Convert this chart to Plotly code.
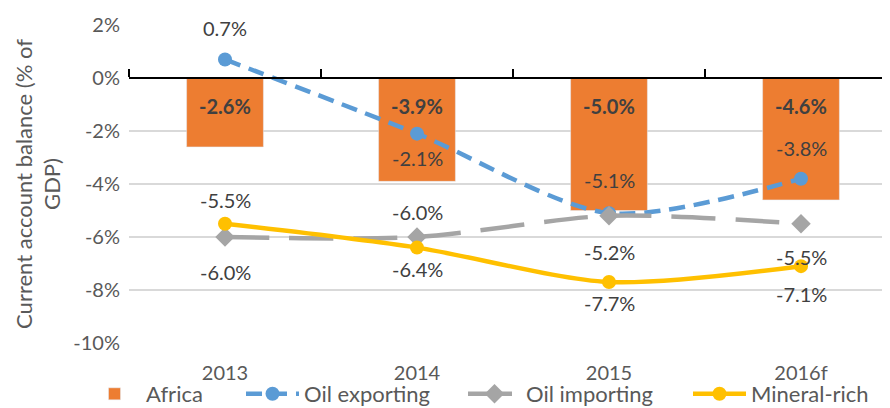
import plotly.graph_objects as go

years = ["2013", "2014", "2015", "2016f"]
africa = [-2.6, -3.9, -5.0, -4.6]
oil_exporting = [0.7, -2.1, -5.1, -3.8]
oil_importing = [-6.0, -6.0, -5.2, -5.5]
mineral_rich = [-5.5, -6.4, -7.7, -7.1]
y_ticks = [2, 0, -2, -4, -6, -8, -10]

# label offsets (style, in px)
exp_shift = [31, -24, 33, 31]
imp_shift = [-35, 25, -36, -33]
min_shift = [24, -21, -21, -28]

FONT = "Lato"
GRAY = "#595959"
LABEL = "#404040"
W, H = 882, 400  # page body has an 8px margin
XR = [-0.5, -0.5 + 761 / 192]
LEG_X = [75, 233, 455, 680]  # left edge of each legend entry (px)

fig = go.Figure()
fig.add_trace(go.Bar(x=years, y=africa, name="Africa", marker_color="#ED7D31",
                     width=0.4, hoverinfo="skip", legend="legend"))
fig.add_trace(go.Scatter(x=years, y=oil_exporting, name="Oil exporting", mode="lines+markers",
                         line=dict(color="#5B9BD5", width=4.5, dash="16px,9px", shape="spline", smoothing=0.8),
                         marker=dict(size=14, color="#5B9BD5"), legend="legend2"))
fig.add_trace(go.Scatter(x=years, y=oil_importing, name="Oil importing", mode="lines+markers",
                         line=dict(color="#A5A5A5", width=4.5, dash="44px,20px", shape="spline", smoothing=0.8),
                         marker=dict(size=15, symbol="diamond", color="#A5A5A5"), legend="legend3"))
fig.add_trace(go.Scatter(x=years, y=mineral_rich, name="Mineral-rich", mode="lines+markers",
                         line=dict(color="#FFC000", width=4.5, shape="spline", smoothing=0.8),
                         marker=dict(size=14, color="#FFC000"), legend="legend4"))
# helper trace to carry the zero-line category axis
fig.add_trace(go.Scatter(x=years, y=[None] * len(years), xaxis="x2", showlegend=False,
                         hoverinfo="skip", mode="lines"))

ann = []
for i, v in enumerate(africa):
    ann.append(dict(x=i, y=0, text=f"<b>{v:.1f}%</b>", showarrow=False, yshift=-28,
                    font=dict(size=20, color=LABEL, family=FONT)))
for vals, shifts in [(oil_exporting, exp_shift), (oil_importing, imp_shift), (mineral_rich, min_shift)]:
    for i, (v, s) in enumerate(zip(vals, shifts)):
        ann.append(dict(x=i, y=v, text=f"{v:.1f}%", showarrow=False, yshift=s,
                        font=dict(size=20, color=LABEL, family=FONT)))


def leg(xpx):
    return dict(orientation="h", xref="container", x=xpx / W, xanchor="left",
                yref="container", y=14 / H, yanchor="middle",
                font=dict(size=22, color=GRAY), itemwidth=53, bgcolor="rgba(0,0,0,0)")


fig.update_layout(
    width=W, height=H,
    margin=dict(l=121, r=0, t=17, b=65, autoexpand=False),
    paper_bgcolor="white", plot_bgcolor="white",
    font=dict(family=FONT, size=20, color=GRAY),
    showlegend=True,
    legend=leg(LEG_X[0]), legend2=leg(LEG_X[1]), legend3=leg(LEG_X[2]), legend4=leg(LEG_X[3]),
    xaxis=dict(type="category", range=XR, showgrid=False, showline=False, automargin=False,
               ticks="", tickfont=dict(size=20, color=GRAY), ticklabelstandoff=16),
    xaxis2=dict(type="category", overlaying="x", anchor="free", position=10 / 12, side="top",
                range=XR, showgrid=False, showline=True, linecolor="black", automargin=False,
                linewidth=2, ticks="outside", tickson="boundaries", ticklen=8, tickwidth=2,
                tickcolor="black", showticklabels=False),
    yaxis=dict(range=[-10, 2], tickvals=y_ticks, ticktext=[f"{t}%" for t in y_ticks],
               showgrid=True, gridcolor="#D9D9D9", gridwidth=1.5, zeroline=False, automargin=False,
               tickfont=dict(size=20, color=GRAY), ticks="", ticklabelstandoff=8,
               title=dict(text="Current account balance (% of<br>GDP)",
                          font=dict(size=22, color=GRAY), standoff=6)),
    annotations=ann,
)

fig.write_html("out.html")
